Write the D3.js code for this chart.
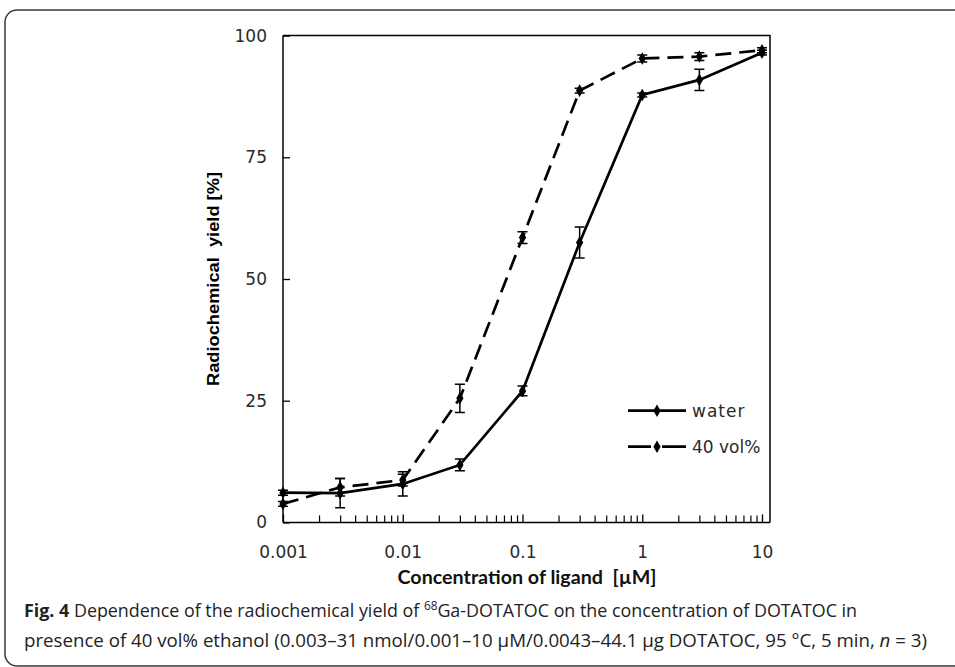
<!DOCTYPE html>
<html>
<head>
<meta charset="utf-8">
<script src="https://cdn.jsdelivr.net/npm/d3@7"></script>
<style>
  html, body { margin: 0; padding: 0; background: #fff; }
  svg { display: block; }
</style>
</head>
<body>
<svg id="chart" width="955" height="667"></svg>
<script>
// ---- data ----
const concentrations = [0.001, 0.003, 0.01, 0.03, 0.1, 0.3, 1, 3, 10];
const waterYield   = [6.1, 6.0, 7.9, 11.8, 27.0, 57.5, 87.8, 90.9, 96.5];
const waterErr     = [0.5, 3.0, 2.5, 1.2, 1.0, 3.2, 0.4, 2.2, 0.5];
const ethanolYield = [3.8, 7.2, 8.7, 25.5, 58.5, 88.7, 95.3, 95.7, 97.0];
const ethanolErr   = [0.5, 1.8, 1.2, 2.9, 1.2, 0.5, 0.7, 0.8, 0.5];
const yTicks = [0, 25, 50, 75, 100];
const xTickLabels = ["0.001", "0.01", "0.1", "1", "10"];
const seriesNames = ["water", "40 vol%"];

const svg = d3.select("#chart");

// outer rounded frame
svg.append("rect")
  .attr("x", 5).attr("y", 10).attr("width", 980).attr("height", 656)
  .attr("rx", 12).attr("ry", 12)
  .attr("fill", "none").attr("stroke", "#3a3a3a").attr("stroke-width", 1.5);

const pLeft = 283, pBottom = 522.4, pTop = 35.6, xEnd = 762, frameRight = 770;

const x = d3.scaleLog().domain([0.001, 10]).range([pLeft, xEnd]);
const y = d3.scaleLinear().domain([0, 100]).range([pBottom, pTop]);

const g = svg.append("g");

// plot frame (top and right)
g.append("path")
  .attr("d", `M${pLeft},${pTop}H${frameRight}V${pBottom}`)
  .attr("fill", "none").attr("stroke", "#000").attr("stroke-width", 1.5);

// y axis
const yAxis = d3.axisLeft(y).tickValues(yTicks).tickSize(-7).tickPadding(22)
  .tickFormat(d3.format("d"));
const yg = g.append("g").attr("transform", `translate(${pLeft},0)`).call(yAxis);
yg.select(".domain").attr("d", `M0,${pTop}V${pBottom}`).attr("stroke-width", 1.5);
yg.selectAll(".tick line").attr("stroke-width", 1.3);
yg.selectAll(".tick text")
  .attr("font-family", "DejaVu Sans").attr("font-size", 17).attr("fill", "#2a2a2a")
  .attr("x", -16);

// x axis: major + minor ticks
const minorVals = [];
for (let e = -3; e < 1; e++) {
  for (let m = 2; m <= 9; m++) minorVals.push(m * Math.pow(10, e));
}
const xAxis = d3.axisBottom(x)
  .tickValues(xTickLabels.map(Number))
  .tickFormat((d, i) => xTickLabels[i])
  .tickSize(-8).tickPadding(24);
const xg = g.append("g").attr("transform", `translate(0,${pBottom})`).call(xAxis);
xg.select(".domain").attr("d", `M${pLeft},0H${frameRight}`).attr("stroke-width", 1.5);
xg.selectAll(".tick line").attr("stroke-width", 1.3);
xg.selectAll(".tick text")
  .attr("font-family", "DejaVu Sans").attr("font-size", 17).attr("fill", "#2a2a2a");

const xMinor = d3.axisBottom(x).tickValues(minorVals).tickFormat("").tickSize(-7);
const xmg = g.append("g").attr("transform", `translate(0,${pBottom})`).call(xMinor);
xmg.select(".domain").remove();
xmg.selectAll(".tick line").attr("stroke-width", 1.2);

// axis titles
g.append("text")
  .attr("transform", `translate(213,${(pTop + pBottom) / 2}) rotate(-90)`)
  .attr("text-anchor", "middle").attr("dy", "0.35em")
  .attr("font-family", "Liberation Sans Narrow, Liberation Sans, sans-serif")
  .attr("font-weight", "bold").attr("font-size", 16)
  .attr("textLength", 214).attr("lengthAdjust", "spacingAndGlyphs")
  .attr("xml:space", "preserve")
  .text("Radiochemical  yield [%]");

g.append("text")
  .attr("x", 527).attr("y", 584)
  .attr("text-anchor", "middle")
  .attr("font-family", "Lato, sans-serif")
  .attr("font-weight", "bold").attr("font-size", 19.5)
  .attr("textLength", 259).attr("lengthAdjust", "spacingAndGlyphs")
  .attr("xml:space", "preserve")
  .attr("fill", "#111")
  .text("Concentration of ligand  [µM]");

// series
const series = [
  { name: seriesNames[0], vals: waterYield, err: waterErr, dash: null },
  { name: seriesNames[1], vals: ethanolYield, err: ethanolErr, dash: "16,8" }
];

const line = d3.line().x(d => x(d[0])).y(d => y(d[1]));
const diamond = d3.symbol().type(d3.symbolDiamond).size(46);

series.forEach(s => {
  const pts = concentrations.map((c, i) => [c, s.vals[i], s.err[i]]);
  const sg = g.append("g");
  pts.forEach(p => {
    const cx = x(p[0]);
    const y1 = y(p[1] + p[2]), y2 = y(p[1] - p[2]);
    sg.append("path")
      .attr("d", `M${cx},${y1}V${y2}M${cx - 5},${y1}H${cx + 5}M${cx - 5},${y2}H${cx + 5}`)
      .attr("stroke", "#000").attr("stroke-width", 1.5).attr("fill", "none");
  });
  sg.append("path").datum(pts)
    .attr("d", line)
    .attr("fill", "none").attr("stroke", "#000").attr("stroke-width", 2.7)
    .attr("stroke-dasharray", s.dash);
  sg.selectAll("path.pt").data(pts).enter().append("path")
    .attr("class", "pt")
    .attr("transform", d => `translate(${x(d[0])},${y(d[1])})`)
    .attr("d", diamond).attr("fill", "#000");
});

// legend
const legY = [410.7, 446.7];
series.forEach((s, i) => {
  const lg = g.append("g");
  lg.append("line")
    .attr("x1", 628).attr("x2", 686).attr("y1", legY[i]).attr("y2", legY[i])
    .attr("stroke", "#000").attr("stroke-width", 2.7)
    .attr("stroke-dasharray", s.dash ? "23,11,24" : null);
  lg.append("path")
    .attr("transform", `translate(657,${legY[i]})`)
    .attr("d", diamond).attr("fill", "#000");
  lg.append("text")
    .attr("x", 692).attr("y", legY[i]).attr("dy", "0.36em")
    .attr("font-family", "DejaVu Sans").attr("font-size", 17).attr("fill", "#2a2a2a")
    .attr("letter-spacing", i === 0 ? 1 : 0)
    .text(s.name);
});

// caption
const cap = svg.append("g").attr("font-family", "Open Sans, sans-serif").attr("font-size", 18.2).attr("fill", "#222");
const t1 = cap.append("text").attr("x", 24).attr("y", 617)
  .attr("textLength", 833).attr("lengthAdjust", "spacingAndGlyphs");
t1.append("tspan").attr("font-weight", "bold").text("Fig. 4");
t1.append("tspan").text(" Dependence of the radiochemical yield of ");
t1.append("tspan").attr("dy", -7).attr("font-size", 12).text("68");
t1.append("tspan").attr("dy", 7).text("Ga-DOTATOC on the concentration of DOTATOC in");
const t2 = cap.append("text").attr("x", 24).attr("y", 647)
  .attr("textLength", 903).attr("lengthAdjust", "spacingAndGlyphs");
t2.append("tspan").text("presence of 40 vol% ethanol (0.003–31 nmol/0.001–10 µM/0.0043–44.1 µg DOTATOC, 95 °C, 5 min, ");
t2.append("tspan").attr("font-style", "italic").text("n");
t2.append("tspan").text(" = 3)");
</script>
</body>
</html>
